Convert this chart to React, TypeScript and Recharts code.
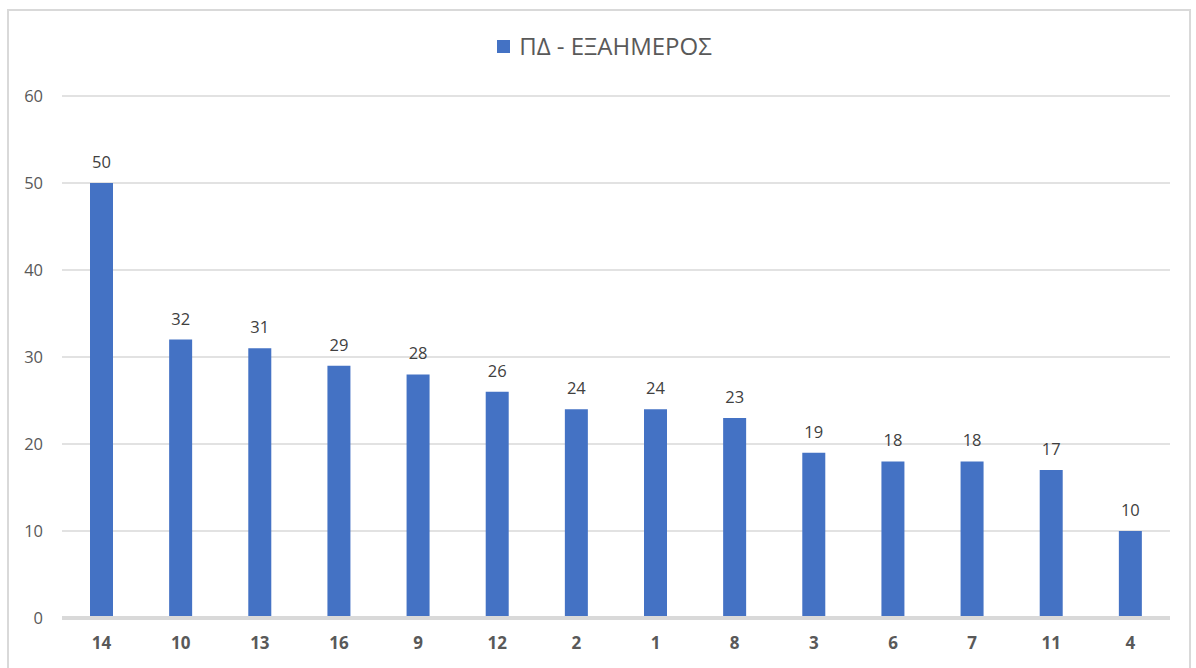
import { Bar, BarChart, CartesianGrid, LabelList, Legend, XAxis, YAxis } from "recharts";

const categories = ["14", "10", "13", "16", "9", "12", "2", "1", "8", "3", "6", "7", "11", "4"];
const values = [50, 32, 31, 29, 28, 26, 24, 24, 23, 19, 18, 18, 17, 10];
const yTicks = [0, 10, 20, 30, 40, 50, 60];
const seriesName = "ΠΔ - ΕΞΑΗΜΕΡΟΣ";

const chartData = categories.map((name, i) => ({ name, value: values[i] }));

const font = "'Open Sans', 'Noto Sans', sans-serif";

function LegendContent() {
  return (
    <div
      style={{
        display: "flex",
        justifyContent: "center",
        alignItems: "center",
        fontFamily: font,
        height: 30,
        paddingLeft: 13,
      }}
    >
      <span style={{ width: 13, height: 13, background: "#4472C4", display: "inline-block", marginRight: 9 }} />
      <span style={{ fontSize: 24, color: "#595959", lineHeight: "30px" }}>{seriesName}</span>
    </div>
  );
}

export default function App() {
  return (
    <div style={{ position: "fixed", left: 0, top: 0, width: 1196, height: 668, background: "#fff", overflow: "hidden" }}>
      <div
        style={{
          position: "absolute",
          left: 7,
          top: 9,
          width: 1184,
          height: 700,
          border: "2px solid #D9D9D9",
          boxSizing: "border-box",
        }}
      />
      <BarChart
        width={1196}
        height={668}
        data={chartData}
        margin={{ top: 66, right: 26, bottom: 0, left: 0 }}
        style={{ fontFamily: font }}
      >
        <CartesianGrid vertical={false} stroke="#D9D9D9" strokeWidth={1.5} />
        <Legend verticalAlign="top" height={30} content={<LegendContent />} wrapperStyle={{ top: 31, left: 0, width: 1196 }} />
        <YAxis
          width={62}
          domain={[0, 60]}
          ticks={yTicks}
          axisLine={false}
          tickLine={false}
          tickSize={0}
          tickMargin={19}
          tick={{ fill: "#595959", fontSize: 16.5 }}
        />
        <XAxis
          dataKey="name"
          height={50}
          axisLine={{ stroke: "#D9D9D9", strokeWidth: 4 }}
          tickLine={false}
          tickSize={0}
          tickMargin={19}
          tick={{ fill: "#595959", fontSize: 17, fontWeight: 700 }}
        />
        <Bar dataKey="value" name={seriesName} fill="#4472C4" barSize={23} isAnimationActive={false}>
          <LabelList dataKey="value" position="top" offset={15} fill="#404040" fontSize={16.5} />
        </Bar>
      </BarChart>
    </div>
  );
}
